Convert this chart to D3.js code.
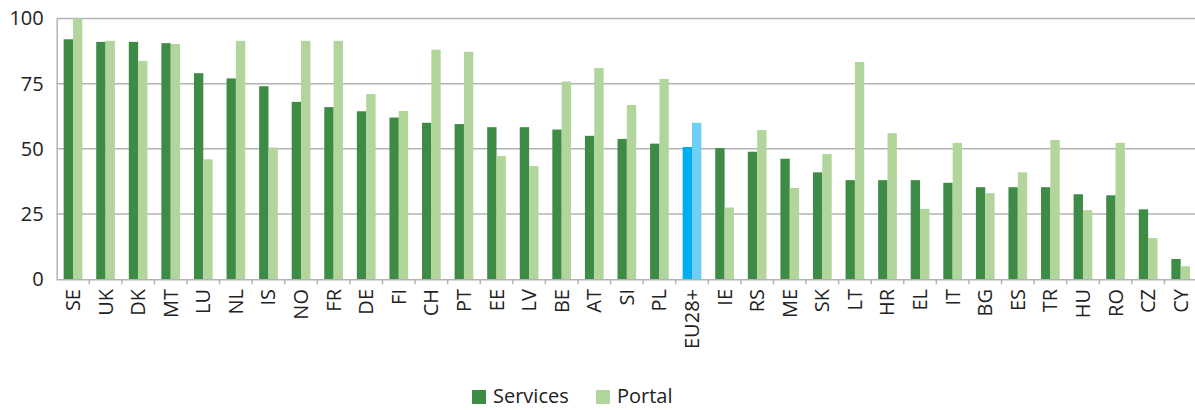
<!DOCTYPE html>
<html>
<head>
<meta charset="utf-8">
<script src="https://cdn.jsdelivr.net/npm/d3@7"></script>
<style>
  body { margin: 0; background: #fff; }
  svg { display: block; font-family: "Open Sans", sans-serif; }
</style>
</head>
<body>
<svg width="1195" height="410"></svg>
<script>
const countries = ["SE", "UK", "DK", "MT", "LU", "NL", "IS", "NO", "FR", "DE", "FI", "CH", "PT", "EE", "LV", "BE", "AT", "SI", "PL", "EU28+", "IE", "RS", "ME", "SK", "LT", "HR", "EL", "IT", "BG", "ES", "TR", "HU", "RO", "CZ", "CY"];
const services = [92, 91, 91, 90.5, 79, 77, 74, 68, 66, 64.4, 62, 60, 59.5, 58.3, 58.3, 57.4, 55, 53.8, 52, 50.7, 50.3, 48.9, 46.2, 41, 38, 38, 38, 37, 35.3, 35.3, 35.3, 32.6, 32.2, 26.8, 7.8];
const portal = [100, 91.4, 83.7, 90.2, 46, 91.4, 50.5, 91.4, 91.4, 71, 64.5, 88, 87.2, 47.3, 43.4, 75.8, 81, 66.8, 76.8, 60, 27.5, 57.2, 35, 48, 83.3, 56, 27, 52.3, 33, 41, 53.4, 26.5, 52.3, 15.8, 5];
const yTicks = [0, 25, 50, 75, 100];
const seriesNames = ["Services", "Portal"];

const colours = { Services: "#3e8b45", Portal: "#b1d59b" };
const euColours = { Services: "#00adee", Portal: "#6dcff6" };

const svg = d3.select("svg");
const plotLeft = 56.7, plotRight = 1197, plotTop = 18.4, plotBottom = 279.3;

const x = d3.scaleBand().domain(countries).range([plotLeft, plotRight])
    .paddingInner(0.426).paddingOuter(0.213);
const x1 = d3.scaleBand().domain(seriesNames).range([0, x.bandwidth()]);
const y = d3.scaleLinear().domain([0, 100]).range([plotBottom, plotTop]);

// gridlines
svg.append("g")
    .selectAll("line").data(yTicks.filter(d => d > 0)).enter()
    .append("line")
    .attr("x1", plotLeft).attr("x2", 1195)
    .attr("y1", d => y(d)).attr("y2", d => y(d))
    .attr("stroke", "#b3b3b3").attr("stroke-width", 1.5);

// y axis
svg.append("g")
    .attr("transform", `translate(${plotLeft},0)`)
    .call(d3.axisLeft(y).tickValues(yTicks).tickSize(0).tickPadding(13))
    .call(g => g.select(".domain").attr("stroke", "#b3b3b3").attr("stroke-width", 1.5))
    .call(g => g.selectAll("text").attr("font-size", "20px").attr("fill", "#222")
        .attr("font-family", "Open Sans, sans-serif"));

// bars
const rows = countries.map((c, i) => ({ country: c, Services: services[i], Portal: portal[i] }));
svg.append("g")
    .selectAll("g").data(rows).enter()
    .append("g")
    .attr("transform", d => `translate(${x(d.country)},0)`)
    .selectAll("rect")
    .data(d => seriesNames.map(k => ({ key: k, value: d[k], eu: d.country === "EU28+" })))
    .enter()
    .append("rect")
    .attr("x", d => x1(d.key))
    .attr("width", x1.bandwidth())
    .attr("y", d => y(d.value))
    .attr("height", d => y(0) - y(d.value))
    .attr("fill", d => d.eu ? euColours[d.key] : colours[d.key]);

// x axis
svg.append("line")
    .attr("x1", plotLeft).attr("x2", 1195)
    .attr("y1", plotBottom + 0.5).attr("y2", plotBottom + 0.5)
    .attr("stroke", "#b3b3b3").attr("stroke-width", 1.5);
svg.append("g")
    .selectAll("line").data(countries.slice(1)).enter()
    .append("line")
    .attr("x1", d => x(d) - x.step() * x.paddingOuter())
    .attr("x2", d => x(d) - x.step() * x.paddingOuter())
    .attr("y1", plotBottom).attr("y2", plotBottom + 5)
    .attr("stroke", "#b3b3b3").attr("stroke-width", 1.5);

svg.append("g")
    .selectAll("text").data(countries).enter()
    .append("text")
    .attr("transform", d => `translate(${x(d) + x.bandwidth() / 2 + 7},289) rotate(-90)`)
    .attr("text-anchor", "end")
    .attr("font-size", "20px")
    .attr("fill", "#222")
    .text(d => d);

// legend
const legend = svg.append("g");
const legendX = [472, 596];
seriesNames.forEach((k, i) => {
    legend.append("rect")
        .attr("x", legendX[i]).attr("y", 390)
        .attr("width", 14).attr("height", 14)
        .attr("fill", colours[k]);
    legend.append("text")
        .attr("x", legendX[i] + 21).attr("y", 403)
        .attr("font-size", "20px")
        .attr("fill", "#222")
        .text(k);
});
</script>
</body>
</html>
